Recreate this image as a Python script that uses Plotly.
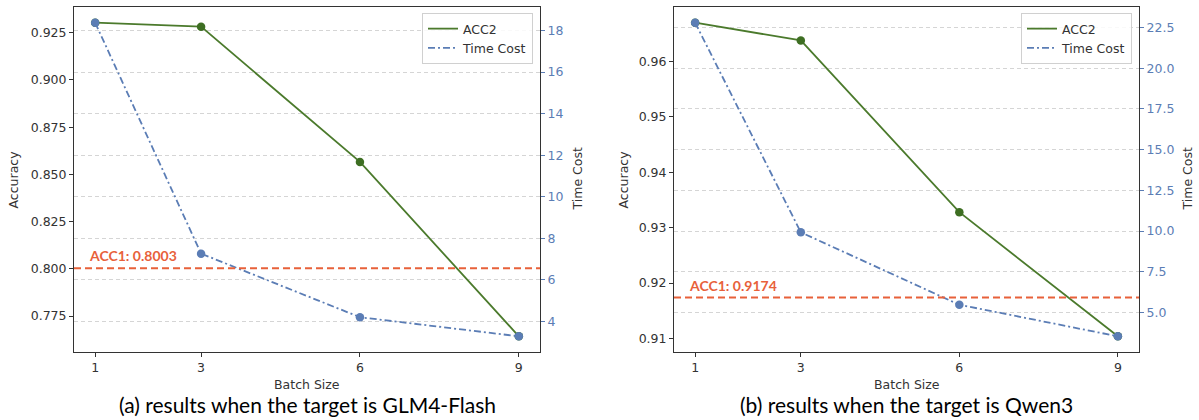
import plotly.graph_objects as go

# ---------------- data ----------------
batch_sizes = [1, 3, 6, 9]
batch_tick_labels = ["1", "3", "6", "9"]

acc2_glm = [0.9303, 0.9282, 0.8566, 0.7643]
time_glm = [18.38, 7.26, 4.2, 3.28]
acc1_glm = 0.8003

acc2_qwen = [0.9670, 0.9638, 0.9328, 0.9104]
time_qwen = [22.80, 9.92, 5.47, 3.53]
acc1_qwen = 0.9174

captions = ["(a) results when the target is GLM4-Flash",
            "(b) results when the target is Qwen3"]

# ---------------- style ----------------
W, H = 1199, 420
GREEN = "#4B7A2C"
GREEN_DOT = "#3D6E22"
BLUE = "#5B7DB5"
RED = "#E8613A"
AX = "#333333"
GRID = "#D5D5D5"
TICKFONT = dict(family="DejaVu Sans", size=12.5, color=AX)
LABELFONT = dict(family="DejaVu Sans", size=12.5, color=AX)


def pad(vals):
    lo, hi = min(vals), max(vals)
    m = (hi - lo) * 0.05
    return [lo - m, hi + m]


xr = pad(batch_sizes)
ydom = [1 - 352 / H, 1 - 7 / H]
xdoms = [[74 / W, 540 / W], [674 / W, 1139 / W]]
ytitle_left_px = [13, 623]
ytitle_right_px = [577, 1187]
acc_dticks = [0.025, 0.01]
acc_formats = [".3f", ".2f"]
time_dticks = [2, 2.5]
time_formats = ["d", ".1f"]

fig = go.Figure()
panels = [
    (acc2_glm, time_glm, acc1_glm, "legend"),
    (acc2_qwen, time_qwen, acc1_qwen, "legend2"),
]

layout = dict(
    width=W, height=H,
    margin=dict(l=0, r=0, t=0, b=0),
    plot_bgcolor="white", paper_bgcolor="white",
    showlegend=True,
    annotations=[], shapes=[],
)

ymid = 1 - ((7 + 352) / 2) / H

for i, (acc2, tcost, acc1, leg) in enumerate(panels):
    xa = "x" if i == 0 else "x2"
    ya_p = "y" if i == 0 else "y3"
    ya_s = "y2" if i == 0 else "y4"
    xkey = "xaxis" if i == 0 else "xaxis2"
    ykey_p = "yaxis" if i == 0 else "yaxis3"
    ykey_s = "yaxis2" if i == 0 else "yaxis4"

    fig.add_trace(go.Scatter(x=batch_sizes, y=acc2, mode="lines", name="ACC2",
                             line=dict(color=GREEN, width=1.8),
                             xaxis=xa, yaxis=ya_p, legend=leg))
    fig.add_trace(go.Scatter(x=batch_sizes, y=acc2, mode="markers", showlegend=False,
                             marker=dict(color=GREEN_DOT, size=8.5),
                             xaxis=xa, yaxis=ya_p, hoverinfo="skip"))
    fig.add_trace(go.Scatter(x=batch_sizes, y=tcost, mode="lines", name="Time Cost",
                             line=dict(color=BLUE, width=1.8, dash="7px,3px,2px,3px"),
                             xaxis=xa, yaxis=ya_s, legend=leg))
    fig.add_trace(go.Scatter(x=batch_sizes, y=tcost, mode="markers", showlegend=False,
                             marker=dict(color=BLUE, size=8.5),
                             xaxis=xa, yaxis=ya_s, hoverinfo="skip"))

    layout["shapes"].append(dict(type="line", xref=f"{xa} domain", yref=ya_p,
                                 x0=0, x1=1, y0=acc1, y1=acc1,
                                 line=dict(color=RED, width=2, dash="7px,4px")))
    layout["annotations"].append(dict(
        x=0.85, y=acc1, xref=xa, yref=ya_p, xanchor="left", yanchor="bottom",
        yshift=2, text=f"<b>ACC1: {acc1:.4f}</b>", showarrow=False,
        font=dict(family="Lato", size=14, color=RED)))

    d = xdoms[i]
    xc = (d[0] + d[1]) / 2
    layout["annotations"].append(dict(
        x=xc, y=1 - 404 / H, xref="paper", yref="paper",
        xanchor="center", yanchor="middle", text=captions[i], showarrow=False,
        font=dict(family="Lato", size=21, color="#000000")))
    layout["annotations"].append(dict(
        x=xc, y=1 - 384 / H, xref="paper", yref="paper", xanchor="center",
        yanchor="middle", text="Batch Size", showarrow=False, font=LABELFONT))
    layout["annotations"].append(dict(
        x=ytitle_left_px[i] / W, y=ymid, xref="paper", yref="paper", xanchor="center",
        yanchor="middle", text="Accuracy", textangle=-90, showarrow=False, font=LABELFONT))
    layout["annotations"].append(dict(
        x=ytitle_right_px[i] / W, y=ymid, xref="paper", yref="paper", xanchor="center",
        yanchor="middle", text="Time Cost", textangle=-90, showarrow=False, font=LABELFONT))

    layout[xkey] = dict(
        domain=xdoms[i], anchor=ya_p, range=xr, tickvals=batch_sizes,
        ticktext=batch_tick_labels, showgrid=False, zeroline=False,
        showline=True, mirror=True, linecolor=AX, linewidth=1,
        ticks="outside", ticklen=4, tickcolor=AX, tickfont=TICKFONT,
        automargin=False)
    layout[ykey_p] = dict(
        domain=ydom, anchor=xa, range=pad(acc2), showgrid=False, zeroline=False,
        showline=True, linecolor=AX, linewidth=1, ticks="outside", ticklen=4,
        tickcolor=AX, tickfont=TICKFONT, side="left",
        tick0=0, dtick=acc_dticks[i], tickformat=acc_formats[i],
        automargin=False)
    layout[ykey_s] = dict(
        overlaying=ya_p, anchor=xa, side="right", range=pad(tcost),
        tick0=0, dtick=time_dticks[i], tickformat=time_formats[i],
        showgrid=True, gridcolor=GRID, gridwidth=1, griddash="4px,3px",
        zeroline=False, showline=True, linecolor=AX, linewidth=1,
        ticks="outside", ticklen=4, tickcolor=BLUE,
        tickfont=dict(family="DejaVu Sans", size=12.5, color=BLUE),
        automargin=False)

legend_style = dict(bgcolor="rgba(255,255,255,0.85)", bordercolor="#D0D0D0", borderwidth=1,
                    font=dict(family="DejaVu Sans", size=12.5, color=AX),
                    xanchor="right", yanchor="top", y=1 - 13 / H, itemwidth=30,
                    tracegroupgap=0)
layout["legend"] = dict(legend_style, x=533 / W)
layout["legend2"] = dict(legend_style, x=1132 / W)

fig.update_layout(**layout)
fig.write_html("out.html", config={"displayModeBar": False},
               post_script="document.body.style.margin='0px';")
